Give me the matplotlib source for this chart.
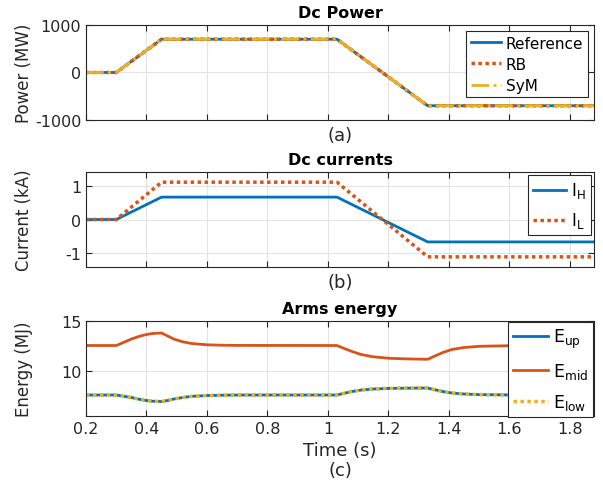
import numpy as np
from matplotlib import pyplot as plt

plt.rcParams['font.family'] = 'DejaVu Sans'
plt.rcParams['mathtext.fontset'] = 'dejavusans'
plt.rcParams['axes.unicode_minus'] = False

BLUE = '#0072BD'
ORANGE = '#D95319'
YELLOW = '#EDB120'

# Dc power (MW)
t_power = [0.2, 0.3, 0.45, 1.03, 1.33, 1.88]
p_reference = [0, 0, 700, 700, -700, -700]
p_rb = [0, 0, 700, 700, -700, -700]
p_sym = [0, 0, 700, 700, -700, -700]

# Dc currents (kA)
t_current = [0.2, 0.3, 0.45, 1.03, 1.33, 1.88]
i_h = [0, 0, 0.66, 0.66, -0.66, -0.66]
i_l = [0, 0, 1.1, 1.1, -1.1, -1.1]

# Arms energy (MJ)
t_energy = [0.2, 0.3, 0.32, 0.35, 0.38, 0.40, 0.42, 0.45, 0.47, 0.49, 0.52,
            0.55, 0.6, 0.65, 0.7, 1.03, 1.05, 1.08, 1.11, 1.15, 1.2, 1.25,
            1.33, 1.35, 1.38, 1.41, 1.45, 1.5, 1.6, 1.88]
e_mid = [12.55, 12.55, 12.8, 13.2, 13.5, 13.65, 13.75, 13.8, 13.5, 13.2, 12.92,
         12.75, 12.62, 12.58, 12.56, 12.55, 12.3, 11.95, 11.65, 11.42, 11.28, 11.22,
         11.17, 11.45, 11.85, 12.15, 12.35, 12.47, 12.53, 12.55]
e_up = [7.6, 7.6, 7.5, 7.35, 7.15, 7.05, 6.98, 6.95, 7.05, 7.2, 7.35,
        7.47, 7.55, 7.58, 7.6, 7.6, 7.75, 7.95, 8.1, 8.2, 8.26, 8.28,
        8.3, 8.15, 7.95, 7.8, 7.7, 7.64, 7.61, 7.6]
e_low = [7.6, 7.6, 7.5, 7.35, 7.15, 7.05, 6.98, 6.95, 7.05, 7.2, 7.35,
         7.47, 7.55, 7.58, 7.6, 7.6, 7.75, 7.95, 8.1, 8.2, 8.26, 8.28,
         8.3, 8.15, 7.95, 7.8, 7.7, 7.64, 7.61, 7.6]

xticks = [0.2, 0.4, 0.6, 0.8, 1.0, 1.2, 1.4, 1.6, 1.8]
xticklabels = ['0.2', '0.4', '0.6', '0.8', '1', '1.2', '1.4', '1.6', '1.8']

fig = plt.figure(figsize=(6.03, 4.89), dpi=100)

left, width, height = 0.1426, 0.8425, 0.1943
ax1 = fig.add_axes([left, 0.7526, width, height])
ax2 = fig.add_axes([left, 0.4519, width, height])
ax3 = fig.add_axes([left, 0.1472, width, height])


def style(ax):
    ax.set_xlim(0.2, 1.88)
    ax.set_xticks(xticks)
    ax.set_xticklabels(xticklabels)
    ax.grid(True, color='#e3e3e3', linewidth=0.8)
    ax.set_axisbelow(True)
    ax.tick_params(direction='in', top=True, right=True, length=4,
                   labelsize=11.5, colors='#262626', width=0.8)
    for s in ax.spines.values():
        s.set_color('#262626')
        s.set_linewidth(0.8)
    ax.yaxis.set_label_coords(-0.105, 0.5)


def legend(ax, size, space, pad):
    leg = ax.legend(loc='upper right', fontsize=size, fancybox=False, framealpha=1,
                    edgecolor='#262626', borderaxespad=pad, handlelength=2,
                    labelspacing=space, borderpad=0.3, handletextpad=0.3)
    leg.get_frame().set_linewidth(0.8)


ax1.plot(t_power, p_reference, color=BLUE, lw=2, label='Reference')
ax1.plot(t_power, p_rb, color=ORANGE, lw=2.5, linestyle=(0, (1, 1)), label='RB')
ax1.plot(t_power, p_sym, color=YELLOW, lw=2, linestyle='-.', label='SyM')
style(ax1)
ax1.set_ylim(-1000, 1000)
ax1.set_yticks([-1000, 0, 1000])
ax1.tick_params(labelbottom=False)
ax1.set_title('Dc Power', fontsize=11.5, fontweight='bold')
ax1.set_ylabel('Power (MW)', fontsize=12, color='#262626')
ax1.set_xlabel('(a)', fontsize=13, color='#262626')
legend(ax1, 11, 0.4, 0.4)

ax2.plot(t_current, i_h, color=BLUE, lw=2, label=r'I$_\mathrm{H}$')
ax2.plot(t_current, i_l, color=ORANGE, lw=2.5, linestyle=(0, (1, 1)), label=r'I$_\mathrm{L}$')
style(ax2)
ax2.set_ylim(-1.4, 1.4)
ax2.set_yticks([-1, 0, 1])
ax2.tick_params(labelbottom=False)
ax2.set_title('Dc currents', fontsize=11.5, fontweight='bold')
ax2.set_ylabel('Current (kA)', fontsize=12, color='#262626')
ax2.set_xlabel('(b)', fontsize=13, color='#262626')
legend(ax2, 12, 0.6, 0.2)

ax3.plot(t_energy, e_up, color=BLUE, lw=2, label=r'E$_\mathrm{up}$')
ax3.plot(t_energy, e_mid, color=ORANGE, lw=2, label=r'E$_\mathrm{mid}$')
ax3.plot(t_energy, e_low, color=YELLOW, lw=2.5, linestyle=(0, (1, 1)), label=r'E$_\mathrm{low}$')
style(ax3)
ax3.set_ylim(5.5, 15)
ax3.set_yticks([10, 15])
ax3.set_title('Arms energy', fontsize=11.5, fontweight='bold')
ax3.set_ylabel('Energy (MJ)', fontsize=12, color='#262626')
ax3.set_xlabel('Time (s)\n(c)', fontsize=13, color='#262626', linespacing=1.1)
legend(ax3, 12.5, 0.62, 0.05)

plt.savefig('out.png', dpi=100)
